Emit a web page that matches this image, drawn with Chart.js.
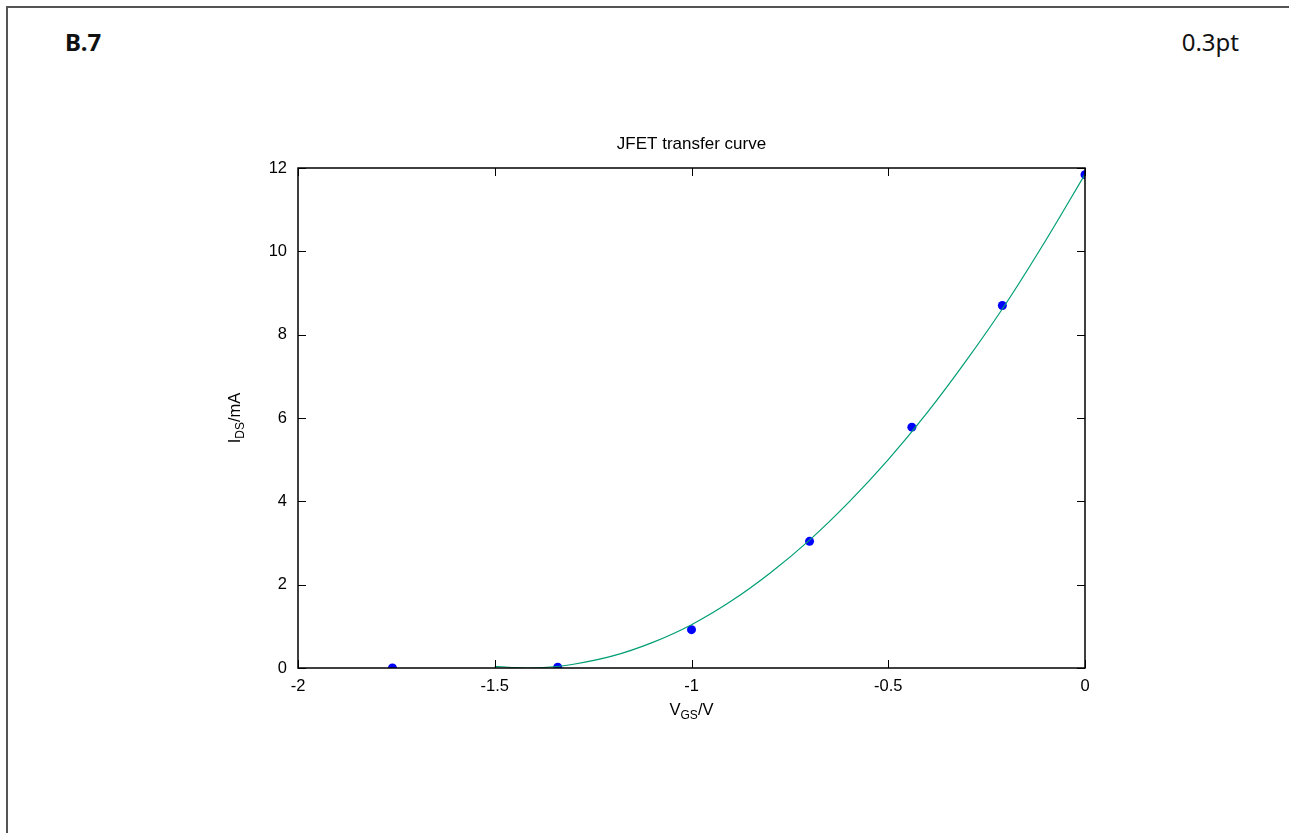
<!DOCTYPE html>
<html>
<head>
<meta charset="utf-8">
<title>JFET transfer curve</title>
<script src="https://cdn.jsdelivr.net/npm/chart.js@4.4.1/dist/chart.umd.min.js"></script>
<style>
  html, body { margin: 0; padding: 0; background: #fff; overflow: hidden; }
  body { width: 1289px; height: 833px; position: relative; }
  #frame {
    position: absolute; left: 6px; top: 6px; width: 2000px; height: 2000px;
    border-left: 2px solid #555; border-top: 2px solid #555;
  }
  .head { position: absolute; top: 30px; font-family: "Noto Sans", "Open Sans", sans-serif; font-size: 24px; line-height: 24px; color: #111; }
  #label { left: 65px; font-weight: bold; }
  #size { right: 50px; }
  #chart { position: absolute; left: 0; top: 0; }
</style>
</head>
<body>
<div id="frame"></div>
<div class="head" id="label">B.7</div>
<div class="head" id="size">0.3pt</div>
<canvas id="chart" width="1289" height="833"></canvas>
<script>
// measured points (blue dots)
const vgsData = [-1.76, -1.34, -1.0, -0.70, -0.44, -0.21, 0];
const idsData = [0, 0.02, 0.92, 3.04, 5.78, 8.70, 11.84];

// fitted curve
const vgsFit = [-1.5, -1.45, -1.42, -1.35, -1.3, -1.2, -1.1, -1.0, -0.9, -0.8, -0.7, -0.6, -0.5, -0.4, -0.3, -0.2, -0.1, 0];
const idsFit = [0.04, 0.01, 0, 0.03, 0.09, 0.29, 0.61, 1.04, 1.6, 2.28, 3.07, 3.98, 5.0, 6.14, 7.4, 8.76, 10.26, 11.85];

const xTicks = [-2, -1.5, -1, -0.5, 0];
const yTicks = [0, 2, 4, 6, 8, 10, 12];

const chartTitle = 'JFET transfer curve';
const FONT = '"Liberation Sans", Arial, sans-serif';

function pairs(xs, ys){
  return xs.map((v, i) => ({x: v, y: ys[i]}));
}

// draw text made of [text, isSub] parts, centered on x
function drawParts(ctx, parts, x, y){
  const big = '16.5px ' + FONT, small = '12px ' + FONT;
  let w = 0;
  parts.forEach(p => { ctx.font = p[1] ? small : big; w += ctx.measureText(p[0]).width; });
  let cx = x - w/2;
  ctx.textAlign = 'left';
  ctx.textBaseline = 'alphabetic';
  parts.forEach(p => {
    ctx.font = p[1] ? small : big;
    ctx.fillText(p[0], cx, p[1] ? y + 4 : y);
    cx += ctx.measureText(p[0]).width;
  });
}

// gnuplot style box: frame, inward ticks on all sides, title and axis labels
const gnuBox = {
  id: 'gnuBox',
  afterDatasetsDraw(chart){
    const {ctx, chartArea: a, scales} = chart;
    const x = scales.x, y = scales.y;
    ctx.save();
    ctx.strokeStyle = '#000';
    ctx.lineWidth = 1;
    ctx.beginPath();
    x.ticks.forEach(t => {
      const px = Math.round(x.getPixelForValue(t.value)) + 0.5;
      ctx.moveTo(px, a.bottom); ctx.lineTo(px, a.bottom - 8);
      ctx.moveTo(px, a.top); ctx.lineTo(px, a.top + 8);
    });
    y.ticks.forEach(t => {
      const py = Math.round(y.getPixelForValue(t.value)) + 0.5;
      ctx.moveTo(a.left, py); ctx.lineTo(a.left + 8, py);
      ctx.moveTo(a.right, py); ctx.lineTo(a.right - 8, py);
    });
    ctx.stroke();
    ctx.lineWidth = 1.5;
    ctx.strokeRect(a.left, a.top, a.right - a.left, a.bottom - a.top);

    ctx.fillStyle = '#000';
    ctx.font = '17px ' + FONT;
    ctx.textAlign = 'center';
    ctx.textBaseline = 'alphabetic';
    ctx.fillText(chartTitle, (a.left + a.right)/2, a.top - 19);

    drawParts(ctx, [['V', false], ['GS', true], ['/V', false]], (a.left + a.right)/2, a.bottom + 47);
    ctx.translate(240, (a.top + a.bottom)/2);
    ctx.rotate(-Math.PI/2);
    drawParts(ctx, [['I', false], ['DS', true], ['/mA', false]], 0, 0);
    ctx.restore();
  }
};

new Chart(document.getElementById('chart'), {
  type: 'line',
  data: {
    datasets: [
      {
        label: 'fit',
        data: pairs(vgsFit, idsFit),
        borderColor: '#009e73',
        borderWidth: 1.2,
        pointRadius: 0,
        cubicInterpolationMode: 'monotone',
        fill: false,
        clip: 0,
        order: 0
      },
      {
        label: 'data',
        data: pairs(vgsData, idsData),
        showLine: false,
        pointRadius: 4.5,
        pointBackgroundColor: '#0000ff',
        pointBorderWidth: 0,
        clip: 0,
        order: 1
      }
    ]
  },
  options: {
    responsive: false,
    animation: false,
    devicePixelRatio: 1,
    layout: { padding: { left: 0, right: 204, top: 168, bottom: 0 } },
    plugins: {
      legend: { display: false },
      tooltip: { enabled: false },
      title: { display: false }
    },
    scales: {
      x: {
        type: 'linear',
        min: -2, max: 0,
        afterFit: s => { s.height = 165; },
        afterBuildTicks: s => { s.ticks = xTicks.map(v => ({value: v})); },
        grid: { display: false, drawTicks: false },
        border: { display: false },
        ticks: { color: '#000', padding: 9, font: { family: FONT, size: 16.5 }, callback: v => String(v), maxRotation: 0 }
      },
      y: {
        type: 'linear',
        min: 0, max: 12,
        afterFit: s => { s.width = 298; },
        afterBuildTicks: s => { s.ticks = yTicks.map(v => ({value: v})); },
        grid: { display: false, drawTicks: false },
        border: { display: false },
        ticks: { color: '#000', padding: 11, font: { family: FONT, size: 16.5 }, callback: v => String(v) }
      }
    }
  },
  plugins: [gnuBox]
});
</script>
</body>
</html>
